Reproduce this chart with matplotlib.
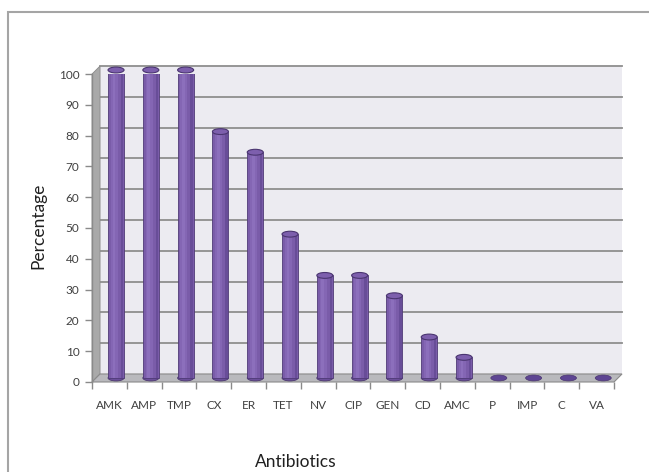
import matplotlib
matplotlib.use("Agg")
import matplotlib.pyplot as plt
from matplotlib.patches import Ellipse, Polygon, Rectangle
from matplotlib.transforms import ScaledTranslation

antibiotics = ["AMK", "AMP", "TMP", "CX", "ER", "TET", "NV", "CIP", "GEN",
               "CD", "AMC", "P", "IMP", "C", "VA"]
percentage = [100, 100, 100, 80, 73.3, 46.7, 33.3, 33.3, 26.7,
              13.3, 6.7, 0, 0, 0, 0]
y_ticks = list(range(0, 101, 10))

plt.rcParams["font.family"] = ["Lato", "DejaVu Sans"]

fig = plt.figure(figsize=(6.49, 4.72), dpi=100)
ax = fig.add_axes([0.1418, 0.1907, 0.8043, 0.6525])
ax.set_xlim(-0.5, len(antibiotics) - 0.5)
ax.set_ylim(0, 100)
for s in ax.spines.values():
    s.set_visible(False)

# depth of the fake 3d box, in data units (about 8 px each way)
dx = 0.23
dy = 2.6
n = len(antibiotics)

# back wall + gridlines
back = ax.transData + ScaledTranslation(0.08, 0.08, fig.dpi_scale_trans)
ax.add_patch(Rectangle((-0.5, 0), n, 100, transform=back, facecolor="#ecebf1",
                       edgecolor="none", clip_on=False, zorder=0))
for t in y_ticks[1:]:
    ax.plot([-0.5, n - 0.5], [t, t], transform=back, color="#8e8e8e", lw=1.3,
            clip_on=False, zorder=1)

# left wall and floor
ax.add_patch(Polygon([(-0.5, 0), (-0.5, 100), (-0.5 + dx, 100 + dy), (-0.5 + dx, dy)],
                     closed=True, facecolor="#a9a9a9", edgecolor="#8a8a8a", lw=0.6,
                     clip_on=False, zorder=1))
ax.add_patch(Polygon([(-0.5, 0), (n - 0.5, 0), (n - 0.5 + dx, dy), (-0.5 + dx, dy)],
                     closed=True, facecolor="#b9b9bd", edgecolor="#8a8a8a", lw=0.8,
                     clip_on=False, zorder=1))

# cylinders (sit a bit right of the category centre, like the excel 3d look)
xs = [i + 0.19 for i in range(n)]
base = dy / 2
w = 0.46
eh = 1.9
for x, v in zip(xs, percentage):
    if v > 0:
        ax.add_patch(Ellipse((x, base), w, eh, facecolor="#6a4e99", edgecolor="#4c3870",
                             lw=0.6, zorder=2, clip_on=False))
        ax.bar(x, v, bottom=base, width=w, color="#7a5ca9", edgecolor="#4f3a76",
               linewidth=0.6, zorder=3)
        ax.bar(x - 0.05, v, bottom=base, width=0.2, color="#8466b4", linewidth=0, zorder=3)
        ax.bar(x - 0.06, v, bottom=base, width=0.08, color="#8c6fbc", linewidth=0, zorder=3)
        ax.bar(x + 0.17, v, bottom=base, width=0.07, color="#684d98", linewidth=0, zorder=3)
        ax.add_patch(Ellipse((x, v + base), w, eh, facecolor="#7d5fad", edgecolor="#4a3570",
                             lw=0.8, zorder=4, clip_on=False))
    else:
        ax.add_patch(Ellipse((x, base), w, eh, facecolor="#5e4593", edgecolor="#4a3570",
                             lw=0.5, zorder=4, clip_on=False))

# axes ticks
ax.set_yticks(y_ticks)
ax.set_xticks(range(n))
ax.set_xticklabels(antibiotics)
ax.set_xticks([i - 0.5 for i in range(n + 1)], minor=True)
ax.tick_params(axis="y", length=5, width=1, color="#8a8a8a", labelsize=8.5,
               labelcolor="#404040", pad=4)
ax.tick_params(axis="x", which="major", length=0, labelsize=8.5, labelcolor="#404040", pad=13)
ax.tick_params(axis="x", which="minor", length=5, width=1, color="#8a8a8a")
ax.plot([-0.5, -0.5], [0, 100], color="#8a8a8a", lw=1, clip_on=False, zorder=2)

fig.text(38 / 649, 1 - 226 / 472, "Percentage", rotation=90, fontsize=12.5,
         ha="center", va="center", color="#202020")
fig.text(296 / 649, 1 - 462 / 472, "Antibiotics", fontsize=12.5,
         ha="center", va="center", color="#202020")

# chart frame
fig.add_artist(Rectangle((8 / 649, -0.1), 1.0, 1.1 - 12 / 472, transform=fig.transFigure,
                         fill=False, edgecolor="#a5a5a5", lw=1.5))

fig.savefig("out.png", dpi=100)
